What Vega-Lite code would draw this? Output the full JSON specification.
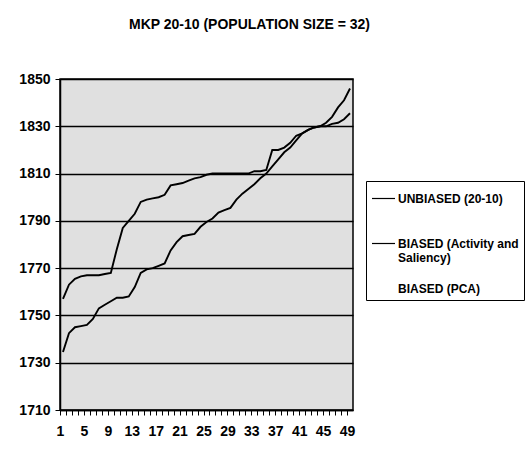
{
  "$schema": "https://vega.github.io/schema/vega-lite/v6.json",
  "width": 293,
  "height": 331,
  "autosize": {"type": "none"},
  "padding": {"left": 60, "top": 79, "right": 178, "bottom": 43},
  "background": "white",
  "title": {"text": "MKP 20-10 (POPULATION SIZE = 32)", "font": "Liberation Sans", "fontSize": 14, "fontWeight": "bold", "anchor": "middle", "dx": 43, "offset": 40, "color": "black"},
  "data": {"values": [
    {"x":1,"y":1757,"s":"UNBIASED (20-10)"},{"x":2,"y":1763,"s":"UNBIASED (20-10)"},{"x":3,"y":1765.5,"s":"UNBIASED (20-10)"},{"x":4,"y":1766.5,"s":"UNBIASED (20-10)"},{"x":5,"y":1767,"s":"UNBIASED (20-10)"},{"x":6,"y":1767,"s":"UNBIASED (20-10)"},{"x":7,"y":1767,"s":"UNBIASED (20-10)"},{"x":8,"y":1767.5,"s":"UNBIASED (20-10)"},{"x":9,"y":1768,"s":"UNBIASED (20-10)"},{"x":10,"y":1778,"s":"UNBIASED (20-10)"},{"x":11,"y":1787,"s":"UNBIASED (20-10)"},{"x":12,"y":1790,"s":"UNBIASED (20-10)"},{"x":13,"y":1793,"s":"UNBIASED (20-10)"},{"x":14,"y":1798,"s":"UNBIASED (20-10)"},{"x":15,"y":1799,"s":"UNBIASED (20-10)"},{"x":16,"y":1799.5,"s":"UNBIASED (20-10)"},{"x":17,"y":1800,"s":"UNBIASED (20-10)"},{"x":18,"y":1801,"s":"UNBIASED (20-10)"},{"x":19,"y":1805,"s":"UNBIASED (20-10)"},{"x":20,"y":1805.5,"s":"UNBIASED (20-10)"},{"x":21,"y":1806,"s":"UNBIASED (20-10)"},{"x":22,"y":1807,"s":"UNBIASED (20-10)"},{"x":23,"y":1808,"s":"UNBIASED (20-10)"},{"x":24,"y":1808.5,"s":"UNBIASED (20-10)"},{"x":25,"y":1809.5,"s":"UNBIASED (20-10)"},{"x":26,"y":1810,"s":"UNBIASED (20-10)"},{"x":27,"y":1810,"s":"UNBIASED (20-10)"},{"x":28,"y":1810,"s":"UNBIASED (20-10)"},{"x":29,"y":1810,"s":"UNBIASED (20-10)"},{"x":30,"y":1810,"s":"UNBIASED (20-10)"},{"x":31,"y":1810,"s":"UNBIASED (20-10)"},{"x":32,"y":1810,"s":"UNBIASED (20-10)"},{"x":33,"y":1811,"s":"UNBIASED (20-10)"},{"x":34,"y":1811,"s":"UNBIASED (20-10)"},{"x":35,"y":1811.5,"s":"UNBIASED (20-10)"},{"x":36,"y":1820,"s":"UNBIASED (20-10)"},{"x":37,"y":1820,"s":"UNBIASED (20-10)"},{"x":38,"y":1821,"s":"UNBIASED (20-10)"},{"x":39,"y":1823,"s":"UNBIASED (20-10)"},{"x":40,"y":1826,"s":"UNBIASED (20-10)"},{"x":41,"y":1827,"s":"UNBIASED (20-10)"},{"x":42,"y":1828.5,"s":"UNBIASED (20-10)"},{"x":43,"y":1829.5,"s":"UNBIASED (20-10)"},{"x":44,"y":1830,"s":"UNBIASED (20-10)"},{"x":45,"y":1830,"s":"UNBIASED (20-10)"},{"x":46,"y":1831,"s":"UNBIASED (20-10)"},{"x":47,"y":1831.5,"s":"UNBIASED (20-10)"},{"x":48,"y":1833,"s":"UNBIASED (20-10)"},{"x":49,"y":1835.5,"s":"UNBIASED (20-10)"},
    {"x":1,"y":1734.5,"s":"BIASED (Activity and Saliency)"},{"x":2,"y":1742.5,"s":"BIASED (Activity and Saliency)"},{"x":3,"y":1745,"s":"BIASED (Activity and Saliency)"},{"x":4,"y":1745.5,"s":"BIASED (Activity and Saliency)"},{"x":5,"y":1746,"s":"BIASED (Activity and Saliency)"},{"x":6,"y":1748.5,"s":"BIASED (Activity and Saliency)"},{"x":7,"y":1753,"s":"BIASED (Activity and Saliency)"},{"x":8,"y":1754.5,"s":"BIASED (Activity and Saliency)"},{"x":9,"y":1756,"s":"BIASED (Activity and Saliency)"},{"x":10,"y":1757.5,"s":"BIASED (Activity and Saliency)"},{"x":11,"y":1757.5,"s":"BIASED (Activity and Saliency)"},{"x":12,"y":1758,"s":"BIASED (Activity and Saliency)"},{"x":13,"y":1762,"s":"BIASED (Activity and Saliency)"},{"x":14,"y":1768,"s":"BIASED (Activity and Saliency)"},{"x":15,"y":1769.5,"s":"BIASED (Activity and Saliency)"},{"x":16,"y":1770,"s":"BIASED (Activity and Saliency)"},{"x":17,"y":1771,"s":"BIASED (Activity and Saliency)"},{"x":18,"y":1772,"s":"BIASED (Activity and Saliency)"},{"x":19,"y":1777.5,"s":"BIASED (Activity and Saliency)"},{"x":20,"y":1781,"s":"BIASED (Activity and Saliency)"},{"x":21,"y":1783.5,"s":"BIASED (Activity and Saliency)"},{"x":22,"y":1784,"s":"BIASED (Activity and Saliency)"},{"x":23,"y":1784.5,"s":"BIASED (Activity and Saliency)"},{"x":24,"y":1787.5,"s":"BIASED (Activity and Saliency)"},{"x":25,"y":1789.5,"s":"BIASED (Activity and Saliency)"},{"x":26,"y":1791,"s":"BIASED (Activity and Saliency)"},{"x":27,"y":1793.5,"s":"BIASED (Activity and Saliency)"},{"x":28,"y":1794.5,"s":"BIASED (Activity and Saliency)"},{"x":29,"y":1795.5,"s":"BIASED (Activity and Saliency)"},{"x":30,"y":1799,"s":"BIASED (Activity and Saliency)"},{"x":31,"y":1801.5,"s":"BIASED (Activity and Saliency)"},{"x":32,"y":1803.5,"s":"BIASED (Activity and Saliency)"},{"x":33,"y":1805.5,"s":"BIASED (Activity and Saliency)"},{"x":34,"y":1808,"s":"BIASED (Activity and Saliency)"},{"x":35,"y":1810,"s":"BIASED (Activity and Saliency)"},{"x":36,"y":1813,"s":"BIASED (Activity and Saliency)"},{"x":37,"y":1816,"s":"BIASED (Activity and Saliency)"},{"x":38,"y":1819,"s":"BIASED (Activity and Saliency)"},{"x":39,"y":1821,"s":"BIASED (Activity and Saliency)"},{"x":40,"y":1824,"s":"BIASED (Activity and Saliency)"},{"x":41,"y":1827,"s":"BIASED (Activity and Saliency)"},{"x":42,"y":1828.5,"s":"BIASED (Activity and Saliency)"},{"x":43,"y":1829.5,"s":"BIASED (Activity and Saliency)"},{"x":44,"y":1830,"s":"BIASED (Activity and Saliency)"},{"x":45,"y":1831.5,"s":"BIASED (Activity and Saliency)"},{"x":46,"y":1834,"s":"BIASED (Activity and Saliency)"},{"x":47,"y":1838,"s":"BIASED (Activity and Saliency)"},{"x":48,"y":1841,"s":"BIASED (Activity and Saliency)"},{"x":49,"y":1846,"s":"BIASED (Activity and Saliency)"}
  ]},
  "mark": {"type": "line", "strokeWidth": 1.9},
  "encoding": {
    "x": {
      "field": "x", "type": "quantitative",
      "scale": {"domain": [0.5, 49.5], "nice": false, "zero": false},
      "axis": {
        "title": null,
        "values": [1,2,3,4,5,6,7,8,9,10,11,12,13,14,15,16,17,18,19,20,21,22,23,24,25,26,27,28,29,30,31,32,33,34,35,36,37,38,39,40,41,42,43,44,45,46,47,48,49,50],
        "labelExpr": "(datum.value - 1) % 4 == 0 && datum.value < 50 ? datum.value : ''",
        "labelOverlap": false,
        "labelFlush": false,
        "tickOffset": -3,
        "tickSize": 5,
        "tickColor": "black",
        "tickWidth": 1,
        "domainColor": "black",
        "domainWidth": 1.5,
        "labelPadding": 9,
        "labelFont": "Liberation Sans",
        "labelFontWeight": "bold",
        "labelFontSize": 14,
        "labelColor": "black",
        "grid": false
      }
    },
    "y": {
      "field": "y", "type": "quantitative",
      "scale": {"domain": [1710, 1850], "nice": false, "zero": false},
      "axis": {
        "title": null,
        "values": [1710,1730,1750,1770,1790,1810,1830,1850],
        "format": "d",
        "grid": true,
        "gridColor": "black",
        "gridWidth": 1.5,
        "gridOpacity": 1,
        "tickSize": 5,
        "tickColor": "black",
        "domainColor": "black",
        "domainWidth": 1.5,
        "labelPadding": 5,
        "labelFont": "Liberation Sans",
        "labelFontWeight": "bold",
        "labelFontSize": 14,
        "labelColor": "black"
      }
    },
    "color": {
      "field": "s", "type": "nominal",
      "scale": {"domain": ["UNBIASED (20-10)", "BIASED (Activity and Saliency)", "BIASED (PCA)"], "range": ["black", "black", "white"]},
      "legend": {
        "title": null,
        "orient": "none",
        "legendX": 306,
        "legendY": 102,
        "direction": "vertical",
        "fillColor": "white",
        "strokeColor": "black",
        "padding": 5,
        "rowPadding": 12,
        "symbolType": "stroke",
        "symbolSize": 530,
        "symbolStrokeWidth": 1.2,
        "symbolOffset": 0,
        "labelOffset": 2,
        "labelLimit": 300,
        "labelFont": "Liberation Sans",
        "labelFontWeight": "bold",
        "labelFontSize": 12,
        "labelColor": "black",
        "labelExpr": "datum.label == 'BIASED (Activity and Saliency)' ? ['BIASED (Activity and', 'Saliency)'] : datum.label == 'UNBIASED (20-10)' ? [datum.label, ''] : datum.label"
      }
    }
  },
  "config": {"view": {"fill": "#e0e0e0", "stroke": "black", "strokeWidth": 1.5}}
}
